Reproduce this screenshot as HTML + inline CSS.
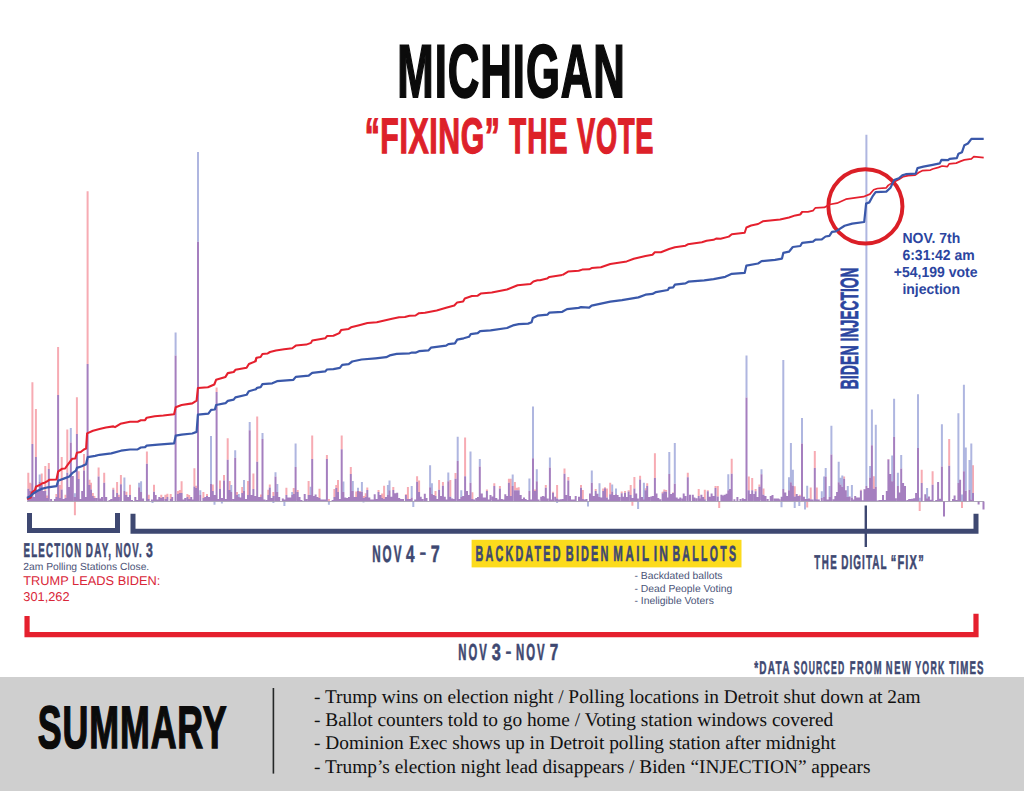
<!DOCTYPE html>
<html><head><meta charset="utf-8"><title>Michigan - Fixing the Vote</title>
<style>
html,body{margin:0;padding:0;background:#fff;}
body{width:1024px;height:791px;overflow:hidden;position:relative;}
svg{position:absolute;left:0;top:0;display:block;}
text{text-rendering:geometricPrecision;}
.c{font-family:"Liberation Sans",Arial,sans-serif;font-weight:700;}
.s{font-family:"Liberation Sans",Arial,sans-serif;}
.b{font-family:"Liberation Sans",Arial,sans-serif;font-weight:700;}
.r{font-family:"Liberation Serif","Times New Roman",serif;}
</style></head><body>
<svg width="1024" height="791" viewBox="0 0 1024 791">
<path fill="#f7abb3" d="M27.3 488.8h2V472.8h-2zM28.9 491h2V482.7h-2zM29.9 495h2V483.5h-2zM31.4 444h2V382.3h-2zM34.9 456.9h2V409.1h-2zM40.7 485h2V473.6h-2zM44.3 491h2V466h-2zM46 498h2V495.6h-2zM47.8 469h2V463h-2zM55.4 497h2V494h-2zM57.1 395h2V347h-2zM58.8 498h2V485h-2zM60.7 489.5h2V457h-2zM64.5 498h2V494.8h-2zM66.3 472.8h2V429.6h-2zM75.9 434h2V397.3h-2zM77.7 479h2V471.3h-2zM83 470.6h2V453.9h-2zM86.6 364h2V191.2h-2zM88.5 485h2V479.7h-2zM90 489.5h2V482.7h-2zM91.8 496h2V493h-2zM93.4 498h2V496h-2zM97.6 476.6h2V467.5h-2zM103.2 482.7h2V472.8h-2zM112.3 489.5h2V487.7h-2zM116.1 492.9h2V482h-2zM117.8 497h2V494.8h-2zM119.9 484.2h2V475.1h-2zM125.4 495h2V491.8h-2zM129 495h2V484.7h-2zM145.9 463.7h2V451.6h-2zM147.7 499h2V494.8h-2zM153 491.8h2V484.7h-2zM160.3 498h2V494.8h-2zM164.4 499h2V494.8h-2zM166.4 497h2V493.8h-2zM169.7 499h2V494h-2zM177 494h2V491h-2zM178.8 493h2V490h-2zM180.6 493h2V481.2h-2zM186.4 497h2V494h-2zM188.2 499h2V495h-2zM193.4 486.5h2V468.3h-2zM195.2 488h2V485.7h-2zM202.4 498h2V492h-2zM206 496h2V494h-2zM211.8 491h2V484.4h-2zM215.6 392h2V387.4h-2zM219 488.75h2V480.5h-2zM223 480.5h2V475h-2zM226.7 459.8h2V438.3h-2zM228.7 490h2V481h-2zM236 495h2V492h-2zM241.2 493h2V487h-2zM247 495h2V481h-2zM252.4 489h2V473.4h-2zM256.2 461.7h2V416.4h-2zM260 497h2V494.5h-2zM267.3 495h2V489.8h-2zM268.8 487.5h2V484.4h-2zM272.4 496h2V492h-2zM285.4 495h2V487.8h-2zM292.75 494h2V488h-2zM296.7 492h2V490h-2zM307.6 495h2V481h-2zM311.2 459h2V435.6h-2zM318.5 498h2V488.75h-2zM325.9 459h2V455h-2zM327.9 501h2V499h-2zM333.4 497h2V489h-2zM335.25 488h2V485h-2zM337 492h2V480h-2zM340.7 449.2h2V435.6h-2zM349.8 473.9h2V466.9h-2zM355.25 497h2V491.5h-2zM358.9 492h2V491h-2zM362.8 498h2V496h-2zM364.7 497h2V493.2h-2zM366.3 489.9h2V487.4h-2zM377.5 492h2V489.9h-2zM381.1 498h2V493.5h-2zM383.1 499h2V485.8h-2zM392.3 490h2V487h-2zM404.9 495h2V494.3h-2zM406.9 499h2V487h-2zM416.1 481.7h2V476.2h-2zM418.1 492h2V480.4h-2zM434.5 496h2V491h-2zM438.1 489.7h2V480h-2zM441.9 485.8h2V482h-2zM449.3 496.8h2V480h-2zM454.5 478.7h2V473h-2zM464.1 476.2h2V437.6h-2zM471.4 499h2V492.3h-2zM485.9 491h2V489.4h-2zM493.3 486h2V483.3h-2zM498.9 488.5h2V486.1h-2zM507.9 482.8h2V478.7h-2zM509.8 496h2V478.7h-2zM513.9 490.2h2V482h-2zM515.9 490.2h2V487.7h-2zM517.7 490.2h2V487.2h-2zM534 491h2V489.4h-2zM544.8 487.7h2V485h-2zM552 492.7h2V491.8h-2zM556.1 498.5h2V485h-2zM563.5 473.8h2V468.4h-2zM567.3 480.4h2V477.1h-2zM580 487.7h2V485h-2zM581.8 499h2V489.9h-2zM594.7 491h2V489h-2zM602.2 491h2V488.6h-2zM604 488.2h2V487.2h-2zM605.9 497.6h2V488.6h-2zM609.2 494.3h2V482.8h-2zM620.7 493.2h2V491.5h-2zM624 492.7h2V491h-2zM627.6 491.5h2V490.2h-2zM629.7 495.1h2V485h-2zM633.4 488.6h2V477.1h-2zM639.1 479.5h2V475.8h-2zM644.5 490.2h2V488.2h-2zM646.2 486.1h2V483.3h-2zM653.9 477.9h2V453.2h-2zM661.6 493.2h2V491.8h-2zM663.3 491.5h2V489.4h-2zM665.1 491.8h2V489.9h-2zM672 493h2V492.5h-2zM686.8 477.2h2V472.7h-2zM697.7 496h2V489h-2zM703.8 499.3h2V489.8h-2zM706.8 491.3h2V490.2h-2zM714.5 488h2V486h-2zM716.8 496.6h2V486h-2zM730.7 473.8h2V458.8h-2zM747.8 490.2h2V476.5h-2zM751.2 490.2h2V478h-2zM754.6 491.3h2V489h-2zM758.4 486.8h2V484.5h-2zM762.5 494.8h2V488.4h-2zM793.7 496.6h2V486.3h-2zM798.8 496h2V494.8h-2zM809.7 499.3h2V487.5h-2zM813.8 467.9h2V451h-2zM815.8 499.3h2V487.5h-2zM843.1 478.8h2V476.5h-2zM859.9 490.5h2V489.7h-2zM863.5 489.2h2V489h-2zM872.9 488.8h2V476.3h-2zM887.4 459.4h2V459h-2zM920.7 483.1h2V469.8h-2zM931.6 484.8h2V471.2h-2zM948.2 465.8h2V439h-2zM972 493.1h2V465.2h-2zM73.9 501.6h2V515.3h-2zM631.4 501.6h2V505.8h-2zM718.2 501.6h2V508h-2zM806.2 501.6h2V507.5h-2zM918.7 501.6h2V511h-2zM961 501.6h2V508h-2z"/>
<path fill="#afb6e0" d="M38.7 482h2V474.4h-2zM69.8 442.5h2V428h-2zM73.9 497h2V493.3h-2zM123.4 491h2V477.4h-2zM138.1 487.3h2V482.7h-2zM140.1 492h2V481.2h-2zM174.6 355.6h2V332.4h-2zM197 241.7h2V152h-2zM199.3 495h2V490.3h-2zM210 484h2V436h-2zM230.25 492h2V485h-2zM234.2 457.8h2V450.3h-2zM237.75 497h2V494h-2zM243 491h2V480h-2zM248.7 430.2h2V421.9h-2zM261.5 439h2V433h-2zM274.5 476.6h2V472.2h-2zM276.3 492h2V484h-2zM291.2 495h2V492h-2zM294.6 466.9h2V443.4h-2zM309.6 495h2V486.8h-2zM342.4 492h2V481.6h-2zM351.8 491h2V481h-2zM357 491h2V487.7h-2zM360.9 491.8h2V482h-2zM386.9 495h2V485h-2zM388.5 490.2h2V480.4h-2zM410.7 497.6h2V486.1h-2zM429.1 487.2h2V465.2h-2zM430.9 494h2V483.3h-2zM447.3 481.2h2V472.5h-2zM456.7 461h2V436.8h-2zM460.3 497h2V490.2h-2zM469.5 482.8h2V451.6h-2zM478.8 466.4h2V459h-2zM511.7 486.1h2V474.6h-2zM528.4 491h2V478.4h-2zM532 458.2h2V406.4h-2zM535.8 481.2h2V469.3h-2zM548.9 467.5h2V457.4h-2zM590.8 482.8h2V470.5h-2zM598.5 496.8h2V483.3h-2zM611.2 491.5h2V484.5h-2zM615 494.3h2V488.6h-2zM642.9 499.3h2V482.8h-2zM668.3 474.1h2V452.1h-2zM673.8 483.8h2V443.1h-2zM727.3 490.2h2V474.3h-2zM745.5 397.6h2V355.5h-2zM760.5 474.3h2V469.3h-2zM782.3 489h2V360h-2zM788 490.2h2V477.2h-2zM789.9 482.2h2V443.1h-2zM791.9 485.6h2V469.7h-2zM801 443.5h2V418h-2zM806.2 499h2V485.7h-2zM820.8 498h2V491.3h-2zM823.1 497h2V476.5h-2zM824.7 476.5h2V467.9h-2zM828.6 497h2V486.1h-2zM830.4 454.5h2V425.8h-2zM837.7 482.2h2V461.8h-2zM839.5 484.5h2V477.7h-2zM841.3 486.8h2V475.4h-2zM846.8 497h2V486.1h-2zM850.9 497.5h2V485h-2zM865.4 485.9h2V134.7h-2zM869.1 477.4h2V466h-2zM870.9 445.2h2V409.4h-2zM874.8 486.7h2V424.7h-2zM891.2 481.2h2V455.4h-2zM893.1 437.1h2V398.7h-2zM896.9 485.9h2V472.7h-2zM900.2 468.4h2V455.1h-2zM917 448h2V394.2h-2zM918.8 500.9h2V497.8h-2zM926.1 498.2h2V488h-2zM940.9 466.5h2V424.2h-2zM957.4 483.1h2V413.3h-2zM961 500.9h2V494.5h-2zM962.9 471.2h2V384.8h-2zM964.8 490.7h2V447.5h-2zM968.5 489.7h2V460.1h-2zM970.3 499.5h2V443.4h-2zM151.5 501.6h2V503h-2zM213.5 501.6h2V504.7h-2zM220.9 501.6h2V503.4h-2zM272.4 501.6h2V503h-2zM283.4 501.6h2V506h-2zM327.9 501.6h2V504.7h-2zM362.5 501.6h2V502.5h-2zM412.3 501.6h2V507h-2zM556.1 501.6h2V503h-2zM587 501.6h2V506.6h-2zM637.1 501.6h2V509.1h-2zM780.5 501.6h2V507.3h-2zM793.7 501.6h2V508h-2zM798.3 501.6h2V506h-2zM804 501.6h2V509.5h-2z"/>
<path fill="#a57fbf" d="M27.3 501h2V488.8h-2zM28.9 501h2V491h-2zM29.9 501h2V495h-2zM31.4 501h2V444h-2zM33.4 501h2V497h-2zM34.9 501h2V456.9h-2zM36.9 501h2V491h-2zM38.7 501h2V482h-2zM40.7 501h2V485h-2zM42.5 501h2V491h-2zM44.3 501h2V491h-2zM46 501h2V498h-2zM47.8 501h2V469h-2zM50.1 501h2V499h-2zM53.9 501h2V499h-2zM55.4 501h2V497h-2zM57.1 501h2V395h-2zM58.8 501h2V498h-2zM60.7 501h2V489.5h-2zM62.7 501h2V499h-2zM64.5 501h2V498h-2zM66.3 501h2V472.8h-2zM67.9 501h2V487h-2zM69.8 501h2V442.5h-2zM71.8 501h2V475.9h-2zM73.9 501h2V497h-2zM75.9 501h2V434h-2zM77.7 501h2V479h-2zM79.4 501h2V499h-2zM81.2 501h2V491h-2zM83 501h2V470.6h-2zM84.6 501h2V497h-2zM86.6 501h2V364h-2zM88.5 501h2V485h-2zM90 501h2V489.5h-2zM91.8 501h2V496h-2zM93.4 501h2V498h-2zM97.6 501h2V476.6h-2zM99.4 501h2V498.6h-2zM101 501h2V497h-2zM103.2 501h2V482.7h-2zM105.2 501h2V497h-2zM108.5 501h2V500h-2zM112.3 501h2V489.5h-2zM114.3 501h2V497h-2zM116.1 501h2V492.9h-2zM117.8 501h2V497h-2zM119.9 501h2V484.2h-2zM123.4 501h2V491h-2zM125.4 501h2V495h-2zM127.2 501h2V497h-2zM129 501h2V495h-2zM131 501h2V500h-2zM138.1 501h2V487.3h-2zM140.1 501h2V492h-2zM142.1 501h2V498.6h-2zM145.9 501h2V463.7h-2zM147.7 501h2V499h-2zM153 501h2V491.8h-2zM158.3 501h2V497h-2zM160.3 501h2V498h-2zM162.1 501h2V497h-2zM164.4 501h2V499h-2zM166.4 501h2V497h-2zM169.7 501h2V499h-2zM171.2 501h2V497h-2zM174.6 501h2V355.6h-2zM177 501h2V494h-2zM178.8 501h2V493h-2zM180.6 501h2V493h-2zM182.6 501h2V499.4h-2zM186.4 501h2V497h-2zM188.2 501h2V499h-2zM190.2 501h2V497h-2zM191.7 501h2V499.4h-2zM193.4 501h2V486.5h-2zM195.2 501h2V488h-2zM197 501h2V241.7h-2zM199.3 501h2V495h-2zM202.4 501h2V498h-2zM204.2 501h2V497h-2zM206 501h2V496h-2zM208 501h2V497h-2zM210 501h2V484h-2zM211.8 501h2V491h-2zM213.6 501h2V495h-2zM215.6 501h2V392h-2zM217.3 501h2V499h-2zM219 501h2V488.75h-2zM221 501h2V498h-2zM223 501h2V480.5h-2zM225 501h2V499h-2zM226.7 501h2V459.8h-2zM228.7 501h2V490h-2zM230.25 501h2V492h-2zM232.3 501h2V499h-2zM234.2 501h2V457.8h-2zM236 501h2V495h-2zM237.75 501h2V497h-2zM239.4 501h2V497.5h-2zM241.2 501h2V493h-2zM243 501h2V491h-2zM245 501h2V499h-2zM247 501h2V495h-2zM248.7 501h2V430.2h-2zM250.5 501h2V495h-2zM252.4 501h2V489h-2zM254.3 501h2V496h-2zM256.2 501h2V461.7h-2zM258.2 501h2V497h-2zM260 501h2V497h-2zM261.5 501h2V439h-2zM263.5 501h2V499.5h-2zM267.3 501h2V495h-2zM268.8 501h2V487.5h-2zM270.6 501h2V498h-2zM272.4 501h2V496h-2zM274.5 501h2V476.6h-2zM276.3 501h2V492h-2zM278.2 501h2V497h-2zM281.8 501h2V498.5h-2zM283.6 501h2V499.5h-2zM285.4 501h2V495h-2zM287.4 501h2V497.5h-2zM289.3 501h2V497.5h-2zM291.2 501h2V495h-2zM292.75 501h2V494h-2zM294.6 501h2V466.9h-2zM296.7 501h2V492h-2zM298.5 501h2V497h-2zM300.5 501h2V500h-2zM303.7 501h2V494h-2zM305.5 501h2V499h-2zM307.6 501h2V495h-2zM309.6 501h2V495h-2zM311.2 501h2V459h-2zM313 501h2V496h-2zM314.6 501h2V494.5h-2zM316.5 501h2V497h-2zM318.5 501h2V498h-2zM320.5 501h2V499.5h-2zM322.2 501h2V499.5h-2zM324 501h2V499.5h-2zM325.9 501h2V459h-2zM327.9 501h2V501h-2zM331.6 501h2V500h-2zM333.4 501h2V497h-2zM335.25 501h2V488h-2zM337 501h2V492h-2zM338.8 501h2V499h-2zM340.7 501h2V449.2h-2zM342.4 501h2V492h-2zM344.3 501h2V497.5h-2zM346 501h2V498h-2zM348 501h2V497h-2zM349.8 501h2V473.9h-2zM351.8 501h2V491h-2zM353.5 501h2V497h-2zM355.25 501h2V497h-2zM357 501h2V491h-2zM358.9 501h2V492h-2zM360.9 501h2V491.8h-2zM362.8 501h2V498h-2zM364.7 501h2V497h-2zM366.3 501h2V489.9h-2zM368.3 501h2V497.6h-2zM370 501h2V499.5h-2zM371.8 501h2V499.5h-2zM373.7 501h2V494.3h-2zM375.5 501h2V499h-2zM377.5 501h2V492h-2zM379.5 501h2V495h-2zM381.1 501h2V498h-2zM383.1 501h2V499h-2zM384.9 501h2V497h-2zM386.9 501h2V495h-2zM388.5 501h2V490.2h-2zM390.4 501h2V496.8h-2zM392.3 501h2V490h-2zM394.2 501h2V493.2h-2zM396.2 501h2V492.7h-2zM398.2 501h2V498h-2zM400.2 501h2V499h-2zM402 501h2V499h-2zM404.9 501h2V495h-2zM406.9 501h2V499h-2zM408.8 501h2V499h-2zM410.7 501h2V497.6h-2zM414.2 501h2V499.5h-2zM416.1 501h2V481.7h-2zM418.1 501h2V492h-2zM419.7 501h2V496.8h-2zM421.6 501h2V499h-2zM423.8 501h2V493.8h-2zM425.5 501h2V498h-2zM429.1 501h2V487.2h-2zM430.9 501h2V494h-2zM432.8 501h2V495.1h-2zM434.5 501h2V496h-2zM436.2 501h2V499h-2zM438.1 501h2V489.7h-2zM440.1 501h2V496h-2zM441.9 501h2V485.8h-2zM443.8 501h2V496.8h-2zM445.5 501h2V499.5h-2zM447.3 501h2V481.2h-2zM449.3 501h2V496.8h-2zM451.2 501h2V498.5h-2zM453 501h2V499h-2zM454.5 501h2V478.7h-2zM456.7 501h2V461h-2zM458.3 501h2V499h-2zM460.3 501h2V497h-2zM462.1 501h2V496h-2zM464.1 501h2V476.2h-2zM466 501h2V491h-2zM467.8 501h2V495h-2zM469.5 501h2V482.8h-2zM471.4 501h2V499h-2zM473.2 501h2V499.5h-2zM475.3 501h2V498h-2zM477 501h2V497h-2zM478.8 501h2V466.4h-2zM480.8 501h2V493.5h-2zM482.6 501h2V497.5h-2zM484.2 501h2V497.6h-2zM485.9 501h2V491h-2zM487.8 501h2V499.5h-2zM491.6 501h2V496.5h-2zM493.3 501h2V486h-2zM495.3 501h2V498h-2zM497.1 501h2V499.5h-2zM498.9 501h2V488.5h-2zM500.8 501h2V499h-2zM502.6 501h2V499.5h-2zM504.3 501h2V494.3h-2zM506.1 501h2V496h-2zM507.9 501h2V482.8h-2zM509.8 501h2V496h-2zM511.7 501h2V486.1h-2zM513.9 501h2V490.2h-2zM515.9 501h2V490.2h-2zM517.7 501h2V490.2h-2zM519.7 501h2V495.1h-2zM521.4 501h2V499h-2zM523 501h2V497.6h-2zM528.4 501h2V491h-2zM530.2 501h2V499.5h-2zM532 501h2V458.2h-2zM534 501h2V491h-2zM535.8 501h2V481.2h-2zM537.6 501h2V499.5h-2zM540.2 501h2V496.8h-2zM541.9 501h2V496h-2zM543.2 501h2V496.5h-2zM544.8 501h2V487.7h-2zM546.7 501h2V498.5h-2zM548.9 501h2V467.5h-2zM550.9 501h2V499.5h-2zM552 501h2V492.7h-2zM554.2 501h2V496.8h-2zM556.1 501h2V498.5h-2zM558 501h2V499.5h-2zM560 501h2V499.3h-2zM561.8 501h2V499h-2zM563.5 501h2V473.8h-2zM565.2 501h2V495.1h-2zM567.3 501h2V480.4h-2zM569 501h2V496h-2zM570.8 501h2V499.5h-2zM574.7 501h2V496h-2zM578 501h2V496.8h-2zM580 501h2V487.7h-2zM581.8 501h2V499h-2zM583.7 501h2V499.5h-2zM585.5 501h2V499h-2zM589 501h2V493.5h-2zM590.8 501h2V482.8h-2zM592.8 501h2V496h-2zM594.7 501h2V491h-2zM596.5 501h2V493.8h-2zM598.5 501h2V496.8h-2zM600.3 501h2V497.5h-2zM602.2 501h2V491h-2zM604 501h2V488.2h-2zM605.9 501h2V497.6h-2zM607.5 501h2V499.5h-2zM609.2 501h2V494.3h-2zM611.2 501h2V491.5h-2zM613 501h2V495h-2zM615 501h2V494.3h-2zM616.6 501h2V495.1h-2zM618.5 501h2V497h-2zM620.7 501h2V493.2h-2zM622.3 501h2V496.8h-2zM624 501h2V492.7h-2zM625.8 501h2V497h-2zM627.6 501h2V491.5h-2zM629.7 501h2V495.1h-2zM631.4 501h2V498h-2zM633.4 501h2V488.6h-2zM635.2 501h2V493.5h-2zM636.9 501h2V498.6h-2zM639.1 501h2V479.5h-2zM641 501h2V497h-2zM642.9 501h2V499.3h-2zM644.5 501h2V490.2h-2zM646.2 501h2V486.1h-2zM648.2 501h2V497h-2zM650.3 501h2V496.5h-2zM651.9 501h2V496h-2zM653.9 501h2V477.9h-2zM655.5 501h2V493.5h-2zM657.3 501h2V498h-2zM659.3 501h2V499.3h-2zM661.6 501h2V493.2h-2zM663.3 501h2V491.5h-2zM665.1 501h2V491.8h-2zM666.6 501h2V497.5h-2zM668.3 501h2V474.1h-2zM670.3 501h2V494h-2zM672 501h2V493h-2zM673.8 501h2V483.8h-2zM675.7 501h2V497.5h-2zM677.5 501h2V498.8h-2zM679.3 501h2V497.5h-2zM681.4 501h2V498.5h-2zM682.7 501h2V493.6h-2zM684.5 501h2V496h-2zM686.8 501h2V477.2h-2zM689 501h2V494.8h-2zM691.8 501h2V494.8h-2zM693.4 501h2V497.5h-2zM695.5 501h2V498.2h-2zM697.7 501h2V496h-2zM699.6 501h2V498.5h-2zM700.4 501h2V494.8h-2zM702.2 501h2V497h-2zM703.8 501h2V499.3h-2zM706.8 501h2V491.3h-2zM708.6 501h2V496.8h-2zM710.6 501h2V493.6h-2zM712.6 501h2V496h-2zM714.5 501h2V488h-2zM716.8 501h2V496.6h-2zM720.4 501h2V494.8h-2zM722.3 501h2V495.5h-2zM723.6 501h2V494.8h-2zM725.6 501h2V493.8h-2zM727.3 501h2V490.2h-2zM729.1 501h2V489h-2zM730.7 501h2V473.8h-2zM733.4 501h2V499.3h-2zM736.4 501h2V497h-2zM739.5 501h2V499h-2zM741.8 501h2V498.2h-2zM743.6 501h2V499h-2zM745.5 501h2V397.6h-2zM747.8 501h2V490.2h-2zM749.6 501h2V494h-2zM751.2 501h2V490.2h-2zM753.3 501h2V494h-2zM754.6 501h2V491.3h-2zM756.5 501h2V497h-2zM758.4 501h2V486.8h-2zM760.5 501h2V474.3h-2zM762.5 501h2V494.8h-2zM764.5 501h2V496h-2zM766.7 501h2V499h-2zM769.7 501h2V496h-2zM771.5 501h2V495.1h-2zM773.7 501h2V498.4h-2zM775.4 501h2V498.5h-2zM777.3 501h2V498.4h-2zM778.5 501h2V499.3h-2zM780.7 501h2V496.8h-2zM782.3 501h2V489h-2zM784.3 501h2V492.5h-2zM786.3 501h2V496h-2zM788 501h2V490.2h-2zM789.9 501h2V482.2h-2zM791.9 501h2V485.6h-2zM793.7 501h2V496.6h-2zM795.7 501h2V494h-2zM797.6 501h2V496h-2zM798.8 501h2V496h-2zM801 501h2V443.5h-2zM802.9 501h2V496.8h-2zM804.6 501h2V499h-2zM806.2 501h2V499h-2zM808 501h2V498.5h-2zM809.7 501h2V499.3h-2zM811.6 501h2V499.5h-2zM813.8 501h2V467.9h-2zM815.8 501h2V499.3h-2zM817.8 501h2V499.5h-2zM820.8 501h2V498h-2zM823.1 501h2V497h-2zM824.7 501h2V476.5h-2zM826.6 501h2V499.5h-2zM828.6 501h2V497h-2zM830.4 501h2V454.5h-2zM832.6 501h2V499.3h-2zM834.4 501h2V496h-2zM836.1 501h2V492h-2zM837.7 501h2V482.2h-2zM839.5 501h2V484.5h-2zM841.3 501h2V486.8h-2zM843.1 501h2V478.8h-2zM844.8 501h2V490.2h-2zM846.8 501h2V497h-2zM848.6 501h2V496.5h-2zM850.9 501h2V497.5h-2zM852.6 501h2V499.6h-2zM854.2 501h2V495.9h-2zM856.1 501h2V497.5h-2zM858 501h2V497.5h-2zM859.9 501h2V490.5h-2zM861.8 501h2V500.2h-2zM863.5 501h2V489.2h-2zM865.4 501h2V485.9h-2zM867.2 501h2V488h-2zM869.1 501h2V477.4h-2zM870.9 501h2V445.2h-2zM872.9 501h2V488.8h-2zM874.8 501h2V486.7h-2zM876.6 501h2V500.5h-2zM878.5 501h2V500.1h-2zM880.3 501h2V500.1h-2zM882 501h2V494.9h-2zM883.9 501h2V500h-2zM885.8 501h2V491.1h-2zM887.4 501h2V459.4h-2zM889.3 501h2V474.1h-2zM891.2 501h2V481.2h-2zM893.1 501h2V437.1h-2zM894.8 501h2V498.2h-2zM896.9 501h2V485.9h-2zM898.5 501h2V492.6h-2zM900.2 501h2V468.4h-2zM902.1 501h2V483.1h-2zM904 501h2V485.9h-2zM906.3 501h2V500.1h-2zM908.2 501h2V499h-2zM909.4 501h2V499h-2zM911.3 501h2V498.8h-2zM913.2 501h2V498.2h-2zM915.1 501h2V493h-2zM917 501h2V448h-2zM918.8 501h2V500.9h-2zM920.7 501h2V483.1h-2zM924.3 501h2V494.3h-2zM926.1 501h2V498.2h-2zM927.9 501h2V496.4h-2zM929.7 501h2V499.7h-2zM931.6 501h2V484.8h-2zM935.2 501h2V500.1h-2zM937.1 501h2V481.9h-2zM939 501h2V498.8h-2zM940.9 501h2V466.5h-2zM948.2 501h2V465.8h-2zM952 501h2V499h-2zM953.6 501h2V495.4h-2zM955.5 501h2V500.1h-2zM957.4 501h2V483.1h-2zM959.1 501h2V479.8h-2zM961 501h2V500.9h-2zM962.9 501h2V471.2h-2zM964.8 501h2V490.7h-2zM968.5 501h2V489.7h-2zM970.3 501h2V499.5h-2zM972 501h2V493.1h-2zM95.45 501h2V498h-2zM110.25 501h2V499h-2zM134.3 501h2V497h-2zM136.15 501h2V500h-2zM150.95 501h2V499.5h-2zM154.65 501h2V495h-2zM156.5 501h2V499.5h-2zM184.25 501h2V498h-2zM265.65 501h2V500h-2zM489.5 501h2V495h-2zM524.65 501h2V499h-2zM526.5 501h2V500h-2zM572.75 501h2V499.5h-2zM943 501.6h2V516.4h-2zM977.6 501.6h2V504.5h-2zM982.5 501.6h2V509.5h-2z"/>
<rect x="27" y="501" width="957" height="0.8" fill="#9a94a6"/>
<circle cx="865.4" cy="206.4" r="37.05" fill="none" stroke="#db1f27" stroke-width="3.95"/>
<polyline points="27,498.9 30.7,497.5 31.8,492.6 35,490 35.9,486.7 40.4,484.6 42,483.5 45.2,482.4 47.9,480.8 49.5,479.7 56.5,479.5 58.1,471.7 61.9,468.8 65.1,468.5 67.8,464.7 72.1,458.8 75.3,458.5 76.9,452.7 80.7,452 83.9,449.5 86.1,448.6 87.1,433.4 93,430.7 99.5,429.1 105.9,427.5 113.4,426.4 115,427.1 120.4,423.8 130,421.7 137.6,421.7 140.8,420.3 145.1,420.1 146.7,417.7 154.7,416.3 163.3,415.5 174.1,414.2 175.7,407.2 181.6,405 192.3,403.4 196.6,400.7 197.9,388 207.9,387.2 214.3,384.5 216.1,379.8 225.5,376.9 227.8,373.1 233.7,372 235.4,369.8 246.6,367.7 248.9,364 255.4,361.4 256.5,357.8" fill="none" stroke="#e5202e" stroke-width="2.1" stroke-linejoin="round"/>
<polyline points="255.4,361.4 256.5,357.8 260.6,357 262.4,354 267.7,353.4 270,352 275.9,350.5 284.1,349.3 292.3,348.2 295.8,345.6 306.3,344.6 311,342.9 312.3,340.4 325.2,338.3 327,336.1 333.4,335.7 339.3,333.1 341.1,330.1 348.7,328.9 351,327.3 359.2,325.2 367.4,323 376.8,322.2 392,318.7 399.1,317.2 404.9,317 409.6,315.8 415.5,315.5 419,313.2 425,312.7 436.7,310.4 446.1,307.8 454.3,305.5 457.2,302.4 463.1,301.6 464.8,298.4 471.9,296.1 477.7,295.7 480.7,293.6 491.8,292.6 507,289.5 517.6,285.2 530.5,284 533.4,281.4 537.5,280.2 540,280.2 547,278.6 549.4,276.9 562.3,275.1" fill="none" stroke="#e5202e" stroke-width="2.05" stroke-linejoin="round"/>
<polyline points="562.3,275.1 568.1,271.6 578.7,270.8 582.2,269.6 589.2,269.3 591.6,268.1 600.9,267.3 610.3,264 626.7,261.4 633.8,258.7 645.5,256 652.5,254.8 654.8,252.3 660.9,252.2 669.1,249 674.9,247.2 685.5,245.7 687.8,244.3 701.9,242.2 706.6,240.8 713.6,239.8 716.5,238.4 720.6,238.7 728.8,236.6 731.8,234.2 744.7,232.8 746.4,227.5 751.1,225.5 758.1,224 762.8,221.3 775,219.9 780.1,219.4 789,217.5 795.3,215.4 800.3,214.4 802.2,211.8" fill="none" stroke="#e5202e" stroke-width="2.0" stroke-linejoin="round"/>
<polyline points="800.3,214.4 802.2,211.8 807.9,211.8 813,210.6 815.5,207.8 824.4,207.4 829.4,204.5 837,203.2 845.9,199.2 863.6,196.7 869.9,194.1 873.7,189.7 877.5,188.5 886.3,187.8 888.2,185.4 892.9,182.4 898.8,179.5 903.4,176.6 908.1,175.6 915.2,175.2 918.7,172.5 922.2,170.7 930.4,170.1 932.7,169 938.6,167.4 942.1,166 947.4,166.6 949.1,163.9 956.2,163.1 960.9,161.1 964.4,159.9 971.4,158.8 973.8,156.6 983.7,157.6" fill="none" stroke="#e5202e" stroke-width="1.7" stroke-linejoin="round"/>
<polyline points="27,498 30.7,495.9 32.9,493.7 37.2,491 41.5,488.9 47.9,487.3 56.5,486.2 58.1,480.8 65.1,478.1 69.4,476.5 72.6,472.8 75.9,470.6 76.9,467.9 81.8,466.3 86.1,464.2 87.7,457.2 95.2,455.9 99.5,454.8 111.3,453.4 121,450.7 130,449.5 137.6,449.4 140.8,447.5 145.1,447.1 146.7,445.6 158,444.6 174.1,443.4 175.7,435.6 181.6,434.6 192.3,433.5 196.6,431.9 197.9,414.7 208.4,413.6 211.1,409.9 214.9,409.5 216.1,405 225.5,403.2 227.8,400.9 233.7,399.7 235.4,397.4 246.6,394.8 248.9,391.2 255.9,389.2 257.1,387.8 260.6,387.2 262.4,384.1 272.3,383.3 277,381.2 293.4,379.8 295.8,376.9 308.7,375.7 312.2,372.8 325.2,371.4 327,369.5 333.4,369.1 339.9,367.9 342.2,364.8 348.7,364.1 352.2,361.5 361.6,359.5 375.6,358.3 386.2,357.2 389.7,355.4 396.7,353.9 409.6,353.3 412,352.5 415.5,352.7 419,351.2 428.4,350.4 430.9,347.7 446.1,345.6 448.4,344.1 454.9,343.4 457.2,339.7 463.7,338.3 469,336.8 470.7,334.2 477.7,333.2 480.1,331.1 490.6,330.3 507,328 512.9,325.4 518.8,324.2 528.1,323.6 531.6,322.3 532.8,318 537.5,315.7 547.6,314.6 549.4,312.6 562.3,311.8 567,309.1 578.7,307.9 581,307.1 589.2,307.6 591.6,305.6 610.3,301.7 622,300.1 638.4,297.4 645.5,294.7 652.5,293.9 656,292.1 667.9,290 669.1,287.9 673.2,287.3 674.9,284.6 685.5,283.4 688.4,281.7 704.2,280.3 713.6,279.1 725.3,276.8 731.8,273.8 744.7,272.9 746.4,265.6 758.1,263.5 761.6,261.2 775,259.8 782,258.6 783.3,252.9 789,251.7 792.8,247 800.3,246 802.2,242.8 813,241.6 815.5,239.7 821.8,239.4 825.6,236.5 829.4,235.9 832,231.8 835.8,231.4 844.6,225.8 852.2,223.6 864.2,222 866.1,203.6 869.3,202.4 872.4,196.7 875.6,192.2 886.3,191.6 890.5,187.7 894.1,180.1 898.8,178.3 902.3,175.4 905.8,174.2 915.7,173.6 917.5,168.1 923.4,166.6 932.7,164.8 939.8,163.4 941.5,159.8 948,160.2 949.7,158.8 956.8,158.2 958.5,153.7 962,152.2 964.4,145.2 967.9,143.5 971.4,138.8 983.7,138.8" fill="none" stroke="#3a58aa" stroke-width="2.2" stroke-linejoin="round"/>
<path d="M29.5 513V530.4H117.5V513" fill="none" stroke="#3e4871" stroke-width="5"/>
<path d="M133 513.8V531.2H976V513.7" fill="none" stroke="#3e4871" stroke-width="5"/>
<rect x="864.6" y="505.5" width="2.4" height="41.5" fill="#3e4871"/>
<path d="M27.05 615.9V634.6H976V613.7" fill="none" stroke="#e5202e" stroke-width="5.2"/>
<text transform="translate(397.35 96.7) scale(0.5825 1)" font-size="75.04" textLength="390.66" lengthAdjust="spacing" fill="#0b0b0b" stroke="#0b0b0b" stroke-width="1.95" class="c">MICHIGAN</text>
<text transform="translate(364.63 152.5) scale(0.6068 1)" font-size="49.9" textLength="222.93" lengthAdjust="spacing" fill="#dd2129" stroke="#dd2129" stroke-width="1.31" class="c">&#8220;FIXING&#8221;</text> <text transform="translate(509.1 152.5) scale(0.5628 1)" font-size="49.9" textLength="103.63" lengthAdjust="spacing" fill="#dd2129" stroke="#dd2129" stroke-width="1.36" class="c">THE</text> <text transform="translate(577.05 152.5) scale(0.5438 1)" font-size="49.9" textLength="140.48" lengthAdjust="spacing" fill="#dd2129" stroke="#dd2129" stroke-width="1.38" class="c">VOTE</text>
<text transform="translate(23.46 556.85) scale(0.4825 1)" font-size="20.12" textLength="119.65" lengthAdjust="spacing" fill="#3e4871" stroke="#3e4871" stroke-width="0.58" class="c">ELECTION</text> <text transform="translate(85.86 556.85) scale(0.4941 1)" font-size="20.12" textLength="51.08" lengthAdjust="spacing" fill="#3e4871" stroke="#3e4871" stroke-width="0.57" class="c">DAY,</text> <text transform="translate(115.39 556.85) scale(0.4749 1)" font-size="20.12" textLength="55.48" lengthAdjust="spacing" fill="#3e4871" stroke="#3e4871" stroke-width="0.58" class="c">NOV.</text> <text transform="translate(146.1 556.85) scale(0.6085 1)" font-size="20.12" textLength="11.68" lengthAdjust="spacing" fill="#3e4871" stroke="#3e4871" stroke-width="0.52" class="c">3</text>
<text transform="translate(372.25 561.8) scale(0.4937 1)" font-size="23.61" textLength="59.09" lengthAdjust="spacing" fill="#3e4871" stroke="#3e4871" stroke-width="0.66" class="c">NOV</text> <text transform="translate(406.12 561.8) scale(0.6480 1)" font-size="23.61" textLength="14.19" lengthAdjust="spacing" fill="#3e4871" stroke="#3e4871" stroke-width="0.58" class="c">4</text> <text transform="translate(419.48 557.6) scale(0.8519 0.7)" font-size="23.61" textLength="8.98" lengthAdjust="spacing" fill="#3e4871" stroke="#3e4871" stroke-width="0.5" class="c">-</text> <text transform="translate(430.84 561.8) scale(0.6816 1)" font-size="23.61" textLength="11.46" lengthAdjust="spacing" fill="#3e4871" stroke="#3e4871" stroke-width="0.56" class="c">7</text>
<rect x="471.6" y="539.8" width="269.9" height="27.6" fill="#fcdb1d"/>
<text transform="translate(475.54 560.5) scale(0.4918 1)" font-size="21.82" textLength="172.61" lengthAdjust="spacing" fill="#3e4871" stroke="#3e4871" stroke-width="0.65" class="c">BACKDATED</text> <text transform="translate(565.87 560.5) scale(0.5012 1)" font-size="21.82" textLength="84.96" lengthAdjust="spacing" fill="#3e4871" stroke="#3e4871" stroke-width="0.64" class="c">BIDEN</text> <text transform="translate(613.34 560.5) scale(0.5283 1)" font-size="21.82" textLength="67.37" lengthAdjust="spacing" fill="#3e4871" stroke="#3e4871" stroke-width="0.63" class="c">MAIL</text> <text transform="translate(653.74 560.5) scale(0.5486 1)" font-size="21.82" textLength="25.91" lengthAdjust="spacing" fill="#3e4871" stroke="#3e4871" stroke-width="0.61" class="c">IN</text> <text transform="translate(672.47 560.5) scale(0.4839 1)" font-size="21.82" textLength="131.26" lengthAdjust="spacing" fill="#3e4871" stroke="#3e4871" stroke-width="0.65" class="c">BALLOTS</text>
<text transform="translate(814.32 569.05) scale(0.4868 1)" font-size="20.03" textLength="46.17" lengthAdjust="spacing" fill="#3e4871" stroke="#3e4871" stroke-width="0.58" class="c">THE</text> <text transform="translate(841.2 569.05) scale(0.4959 1)" font-size="20.03" textLength="91.62" lengthAdjust="spacing" fill="#3e4871" stroke="#3e4871" stroke-width="0.57" class="c">DIGITAL</text> <text transform="translate(890.68 569.05) scale(0.5498 1)" font-size="20.03" textLength="59.98" lengthAdjust="spacing" fill="#3e4871" stroke="#3e4871" stroke-width="0.55" class="c">&#8220;FIX&#8221;</text>
<text transform="translate(458.35 660.4) scale(0.4858 1)" font-size="23.29" textLength="58.41" lengthAdjust="spacing" fill="#3e4871" stroke="#3e4871" stroke-width="0.69" class="c">NOV</text> <text transform="translate(491.77 660.4) scale(0.7024 1)" font-size="23.29" textLength="11.49" lengthAdjust="spacing" fill="#3e4871" stroke="#3e4871" stroke-width="0.57" class="c">3</text> <text transform="translate(505.38 656.7) scale(0.7561 0.7)" font-size="23.29" textLength="7.7" lengthAdjust="spacing" fill="#3e4871" stroke="#3e4871" stroke-width="0.55" class="c">-</text> <text transform="translate(516.06 660.4) scale(0.4881 1)" font-size="23.29" textLength="58.36" lengthAdjust="spacing" fill="#3e4871" stroke="#3e4871" stroke-width="0.69" class="c">NOV</text> <text transform="translate(549.85 660.4) scale(0.6561 1)" font-size="23.29" textLength="12.75" lengthAdjust="spacing" fill="#3e4871" stroke="#3e4871" stroke-width="0.59" class="c">7</text>
<text transform="translate(754.14 673.75) scale(0.5430 1)" font-size="18.46" textLength="65.1" lengthAdjust="spacing" fill="#3e4871" stroke="#3e4871" stroke-width="0.5" class="c">*DATA</text> <text transform="translate(793.78 673.75) scale(0.4655 1)" font-size="18.46" textLength="108.07" lengthAdjust="spacing" fill="#3e4871" stroke="#3e4871" stroke-width="0.54" class="c">SOURCED</text> <text transform="translate(849.8 673.75) scale(0.5068 1)" font-size="18.46" textLength="62.72" lengthAdjust="spacing" fill="#3e4871" stroke="#3e4871" stroke-width="0.52" class="c">FROM</text> <text transform="translate(885.77 673.75) scale(0.5069 1)" font-size="18.46" textLength="49.62" lengthAdjust="spacing" fill="#3e4871" stroke="#3e4871" stroke-width="0.52" class="c">NEW</text> <text transform="translate(915.21 673.75) scale(0.4761 1)" font-size="18.46" textLength="61.34" lengthAdjust="spacing" fill="#3e4871" stroke="#3e4871" stroke-width="0.53" class="c">YORK</text> <text transform="translate(949.28 673.75) scale(0.5260 1)" font-size="18.46" textLength="65.05" lengthAdjust="spacing" fill="#3e4871" stroke="#3e4871" stroke-width="0.51" class="c">TIMES</text>
<g transform="translate(857.8 388.2) rotate(-90)"><text transform="translate(-1.22 0.47) scale(0.5626 1)" font-size="25.03" textLength="78.22" lengthAdjust="spacing" fill="#2b45a0" stroke="#2b45a0" stroke-width="0.64" class="c">BIDEN</text> <text transform="translate(46.74 0.47) scale(0.5536 1)" font-size="25.03" textLength="133.75" lengthAdjust="spacing" fill="#2b45a0" stroke="#2b45a0" stroke-width="0.64" class="c">INJECTION</text></g>
<text x="23.3" y="570" class="s" font-size="10.3" fill="#4d5478">2am Polling Stations Close.</text>
<text x="23.3" y="585.2" class="s" font-size="12.8" fill="#d92638">TRUMP LEADS BIDEN:</text>
<text x="23.3" y="600.5" class="s" font-size="12.8" fill="#d92638">301,262</text>
<text x="634.5" y="579.2" class="s" font-size="10.35" fill="#4a5478">- Backdated ballots</text>
<text x="634.5" y="591.6" class="s" font-size="10.35" fill="#4a5478">- Dead People Voting</text>
<text x="634.5" y="604" class="s" font-size="10.35" fill="#4a5478">- Ineligible Voters</text>
<text transform="translate(902.4 242.6) scale(1 1.045)" class="b" font-size="14" fill="#2b45a0">NOV. 7th</text>
<text transform="translate(902.4 259.7) scale(1 1.045)" class="b" font-size="14" fill="#2b45a0">6:31:42 am</text>
<text transform="translate(893.8 276.8) scale(1 1.045)" class="b" font-size="14" fill="#2b45a0">+54,199 vote</text>
<text transform="translate(902.4 293.9) scale(1 1.045)" class="b" font-size="14" fill="#2b45a0">injection</text>
<rect x="0" y="677" width="1024" height="114" fill="#cfcfcf"/>
<text transform="translate(37.75 747.85) scale(0.5960 1)" font-size="60.04" textLength="316.9" lengthAdjust="spacing" fill="#0b0b0b" stroke="#0b0b0b" stroke-width="1.55" class="c">SUMMARY</text>
<rect x="272.6" y="688" width="1.6" height="85.6" fill="#242727"/>
<text x="314" y="702.8" class="r" font-size="19.37" fill="#111">- Trump wins on election night / Polling locations in Detroit shut down at 2am</text>
<text x="314" y="726.13" class="r" font-size="19.37" fill="#111">- Ballot counters told to go home / Voting station windows covered</text>
<text x="314" y="749.46" class="r" font-size="19.37" fill="#111">- Dominion Exec shows up in Detroit polling station after midnight</text>
<text x="314" y="772.79" class="r" font-size="19.37" fill="#111">- Trump&#8217;s election night lead disappears / Biden &#8220;INJECTION&#8221; appears</text>
</svg>
</body></html>
